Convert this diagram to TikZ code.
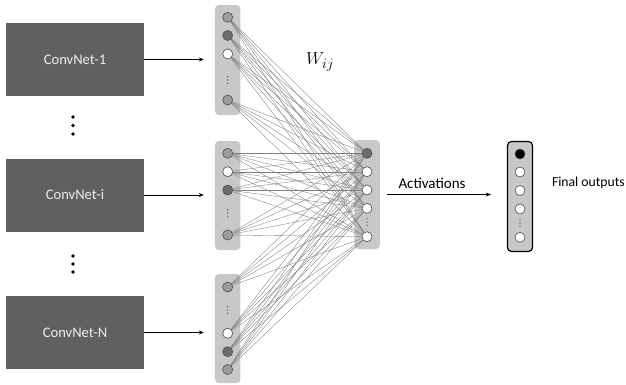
\documentclass[tikz,border=0pt]{standalone}
\usepackage{fontspec}
\setmainfont{Carlito}
\usetikzlibrary{arrows.meta,positioning}

\definecolor{boxgray}{HTML}{606060}
\definecolor{panelgray}{HTML}{C8C8C8}
\definecolor{midgray}{HTML}{9C9C9C}
\definecolor{deepgray}{HTML}{6C6C6C}

\tikzset{
  net/.style={fill=boxgray, text=white!93!black, minimum width=138pt, minimum height=73pt, inner sep=0pt, font=\fontsize{14.6}{16}\selectfont},
  panel/.style={fill=panelgray, rounded corners=4pt, minimum width=25.5pt, inner sep=0pt},
  neuron/.style={circle, draw=black!70, line width=0.6pt, minimum size=10pt, inner sep=0pt},
  nmid/.style={neuron, fill=midgray},
  ndark/.style={neuron, fill=deepgray},
  nwhite/.style={neuron, fill=white},
  nblack/.style={neuron, fill=black},
  wire/.style={draw=black!50, line width=0.35pt},
  feed/.style={-{Stealth[length=5pt,width=4pt]}, line width=0.5pt},
  lbl/.style={font=\fontsize{15}{17}\selectfont, inner sep=0pt}
}

\begin{document}
\begin{tikzpicture}[x=1pt, y=-1pt]
    \useasboundingbox (0,0) rectangle (626,384);

    % ConvNets
    \node[net] (N1) at (75,59.5) {ConvNet-1};
    \node[net] (Ni) at (75,195) {ConvNet-i};
    \node[net] (NN) at (75,332.5) {ConvNet-N};

    % panels
    \node[panel, minimum height=110pt] (P1) at (227.7,60) {};
    \node[panel, minimum height=109pt] (P2) at (227.7,195.5) {};
    \node[panel, minimum height=109pt] (P3) at (227.7,328.5) {};
    \node[panel, minimum height=109pt] (H) at (367,194.5) {};
    \node[panel, draw=black, line width=1.2pt, minimum height=110pt, minimum width=25pt] (O) at (520,196.5) {};

    % first layer
    \node[nmid] (a1) at (227.7,17.3) {};
    \node[ndark] (a2) at (227.7,35.5) {};
    \node[nwhite] (a3) at (227.7,54) {};
    \node[nmid] (a4) at (227.7,100) {};

    \node[nmid] (b1) at (227.7,153.3) {};
    \node[nwhite] (b2) at (227.7,171.7) {};
    \node[ndark] (b3) at (227.7,190) {};
    \node[nmid] (b4) at (227.7,235) {};

    \node[nmid] (c1) at (227.7,287) {};
    \node[nwhite] (c2) at (227.7,333.3) {};
    \node[ndark] (c3) at (227.7,351.7) {};
    \node[nmid] (c4) at (227.7,369.5) {};

    % hidden layer
    \node[ndark] (h1) at (367,153.3) {};
    \node[nwhite] (h2) at (367,171.7) {};
    \node[nwhite] (h3) at (367,190) {};
    \node[nwhite] (h4) at (367,208.3) {};
    \node[nwhite] (h5) at (367,236.7) {};

    % outputs
    \node[nblack] (o1) at (520,154) {};
    \node[nwhite] (o2) at (520,172) {};
    \node[nwhite] (o3) at (520,190.5) {};
    \node[nwhite] (o4) at (520,209) {};
    \node[nwhite] (o5) at (520,237.3) {};

    % weights
    \foreach \a in {a1,a2,a3,a4,b1,b2,b3,b4,c1,c2,c3,c4}
        \foreach \h in {h1,h2,h3,h4,h5}
            \draw[wire] (\a) -- (\h);

    % small dots
    \foreach \x/\y in {227.7/80, 227.7/213, 227.7/310, 367/222, 520/223}
        \foreach \k in {-1,0,1}
            \fill[black!80] (\x,\y+3.3*\k) circle (0.6pt);

    % big dots
    \foreach \y in {117,125.5,134,256,264,272}
        \fill (73,\y) circle (1.9pt);

    \draw[feed, shorten >=11pt] (N1) -- (N1 -| P1.west);
    \draw[feed, shorten >=11pt] (Ni) -- (Ni -| P2.west);
    \draw[feed, shorten >=11pt] (NN) -- (NN -| P3.west);
    \draw[feed, shorten <=7pt, shorten >=16pt] (H) -- (H -| O.west);

    \node[font=\fontsize{19}{21}\selectfont] (W) at (320,62) {$W_{ij}$};
    \node[lbl] (act) at (432,183) {Activations};
    \node[lbl, font=\fontsize{13.7}{16}\selectfont, anchor=east] (fin) at (625,183) {Final outputs};
\end{tikzpicture}
\end{document}
